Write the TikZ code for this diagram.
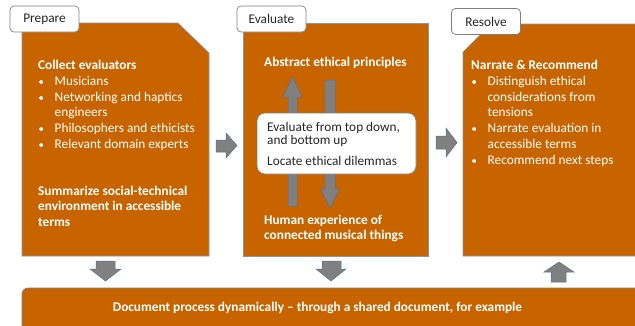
\documentclass[tikz,border=0pt]{standalone}
\usepackage{fontspec}
\setmainfont{Carlito}
\definecolor{boxorange}{HTML}{C86400}
\definecolor{boxedge}{HTML}{8497B0}
\definecolor{arrowgray}{HTML}{808080}
\definecolor{arrowedge}{HTML}{5B6F8F}
\definecolor{tabedge}{HTML}{7F7F7F}
\definecolor{darktext}{HTML}{262626}
\newcommand{\bl}{\makebox[16.5pt][l]{\hspace*{0.5pt}\scalebox{0.8}{•}}}
\newcommand{\ind}{\hspace*{16.5pt}}
\tikzset{
  x=1pt, y=-1pt,
  phasebox/.style={fill=boxorange, draw=boxedge, line width=0.6pt},
  blockarrow/.style={fill=arrowgray, draw=arrowedge, line width=0.5pt},
  tabbox/.style={fill=white, draw=tabedge, line width=0.7pt, rounded corners=4pt,
    minimum width=69pt, minimum height=26pt, inner sep=0pt, font=\fontsize{13.3}{15}\selectfont, text=darktext},
  boxtext/.style={anchor=north west, inner sep=0pt, align=left, text=white,
    font=\fontsize{13.3}{15.8}\selectfont},
  innertext/.style={anchor=north west, inner sep=0pt, align=left, text=darktext,
    font=\fontsize{13.3}{13.4}\selectfont},
}
\begin{document}
\begin{tikzpicture}
\useasboundingbox (0,0) rectangle (635,325);
% phase boxes
\draw[phasebox] (22,23) -- (178,23) -- (209,53) -- (209,256) -- (22,256) -- cycle;
\draw[phasebox] (243,23) rectangle (428,256);
\draw[phasebox] (491,24) -- (640,24) -- (640,256) -- (463,256) -- (463,52) -- cycle;
% bottom bar
\draw[fill=boxorange, draw=tabedge, line width=0.7pt, rounded corners=6pt] (22,288) rectangle (660,340);
\node[inner sep=0pt, anchor=base, text=white, font=\fontsize{13.3}{15}\selectfont\bfseries] (doc) at (317.5,311)
  {Document process dynamically -- through a shared document, for example};
% tabs
\node[tabbox] (prep) at (44.5,19) {Prepare};
\node[tabbox] (eval) at (271.5,19) {Evaluate};
\node[tabbox] (res) at (486,21.5) {Resolve};
% prepare text
\node[boxtext] (collect) at (38,60)
  {\textbf{Collect evaluators}\\
   \bl Musicians\\
   \bl Networking and haptics\\
   \ind engineers\\
   \bl Philosophers and ethicists\\
   \bl Relevant domain experts};
\node[boxtext] (summ) at (38,185.5)
  {\textbf{Summarize social-technical}\\
   \textbf{environment in accessible}\\
   \textbf{terms}};
% evaluate arrows (behind inner box)
\draw[blockarrow] (288,206) -- (288,97) -- (283,97) -- (292.5,77) -- (302,97) -- (297,97) -- (297,206) -- cycle;
\draw[blockarrow] (325,80) -- (335,80) -- (335,189) -- (339.5,189) -- (330,208) -- (320.5,189) -- (325,189) -- cycle;
% evaluate text
\node[boxtext, font=\fontsize{13.3}{15.8}\selectfont\bfseries] (abstract) at (264,57) {Abstract ethical principles};
\node[fill=white, draw=tabedge, line width=0.6pt, rounded corners=8pt, minimum width=159pt, minimum height=61pt, inner sep=0pt] (inner) at (336.5,143.5) {};
\node[innertext] (evaltxt) at (267,122) {Evaluate from top down,\\and bottom up};
\node[innertext] (locate) at (267,156.5) {Locate ethical dilemmas};
\node[boxtext] (human) at (264,214.5)
  {\textbf{Human experience of}\\
   \textbf{connected musical things}};
% resolve text
\node[boxtext] (narrate) at (471,60)
  {\textbf{Narrate \& Recommend}\\
   \bl Distinguish ethical\\
   \ind considerations from\\
   \ind tensions\\
   \bl Narrate evaluation in\\
   \ind accessible terms\\
   \bl Recommend next steps};
% right arrows
\draw[blockarrow] (216,140) -- (226,140) -- (226,133) -- (237,145.5) -- (226,158) -- (226,152) -- (216,152) -- cycle;
\draw[blockarrow] (436,136) -- (446,136) -- (446,128) -- (457,142.5) -- (446,157) -- (446,149) -- (436,149) -- cycle;
% down / up arrows
\draw[blockarrow] (96,261) -- (115,261) -- (115,269) -- (121,269) -- (105.5,281) -- (90,269) -- (96,269) -- cycle;
\draw[blockarrow] (322,261) -- (341,261) -- (341,269) -- (346,269) -- (331,281) -- (316,269) -- (322,269) -- cycle;
\draw[blockarrow] (551,282) -- (566,282) -- (566,272) -- (574,272) -- (559,262) -- (544,272) -- (551,272) -- cycle;
\end{tikzpicture}
\end{document}
